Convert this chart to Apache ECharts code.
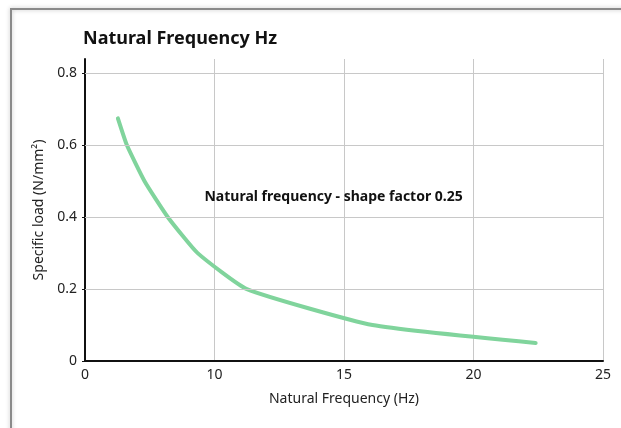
<!DOCTYPE html>
<html>
<head>
<meta charset="utf-8">
<script src="https://cdn.jsdelivr.net/npm/echarts@6/dist/echarts.min.js"></script>
<style>
  html, body { margin: 0; padding: 0; background: #fff; }
  #chart { width: 621px; height: 428px; }
</style>
</head>
<body>
<div id="chart"></div>
<script>
// natural frequency (axis units) vs specific load
const freq = [6.27, 6.62, 7.3, 8.2, 9.35, 11.25, 16.1, 22.4];
const load = [0.675, 0.6, 0.5, 0.4, 0.3, 0.2, 0.1, 0.05];
const xTickLabels = ['0', '10', '15', '20', '25'];
const yGridValues = [0.2, 0.4, 0.6, 0.8];
const seriesName = 'Natural frequency - shape factor 0.25';

const font = '"Noto Sans", sans-serif';

let myChart = echarts.init(document.getElementById('chart'));
myChart.setOption({
    animation: false,
    textStyle: { fontFamily: font },
    title: {
        text: 'Natural Frequency Hz',
        left: 78,
        top: 25,
        textStyle: { fontSize: 18, fontWeight: 'bold', color: '#111', fontFamily: font }
    },
    // outer frame of the chart area
    graphic: [{
        type: 'rect',
        shape: { x: 11, y: 9, width: 700, height: 500 },
        style: { fill: 'none', stroke: '#8a8a8a', lineWidth: 2, shadowBlur: 4, shadowColor: 'rgba(0,0,0,0.25)' },
        silent: true
    }],
    grid: { left: 85, right: 18, top: 59, bottom: 67 },
    xAxis: {
        type: 'value',
        min: 5,
        max: 25,
        interval: 5,
        name: 'Natural Frequency (Hz)',
        nameLocation: 'middle',
        nameGap: 31,
        nameTextStyle: { fontSize: 14, color: '#222' },
        axisLine: { show: true, onZero: false, lineStyle: { color: '#111', width: 2 } },
        axisTick: { show: false },
        axisLabel: {
            fontSize: 14, color: '#222', margin: 7,
            formatter: v => xTickLabels[Math.round((v - 5) / 5)]
        },
        splitLine: { show: true, lineStyle: { color: '#c8c8c8', width: 1 } }
    },
    yAxis: {
        type: 'value',
        min: 0,
        max: 0.84,
        interval: 0.2,
        name: 'Specific load (N/mm²)',
        nameLocation: 'middle',
        nameGap: 33,
        nameTextStyle: { fontSize: 14, color: '#222' },
        axisLine: { show: true, lineStyle: { color: '#111', width: 2 } },
        axisTick: { show: true, length: 3, lineStyle: { color: '#111', width: 1 } },
        axisLabel: { fontSize: 14, color: '#222', margin: 8, showMaxLabel: false },
        splitLine: { show: false }
    },
    series: [{
        name: seriesName,
        type: 'line',
        data: freq.map((f, i) => [f, load[i]]),
        smooth: 0.15,
        symbol: 'none',
        lineStyle: { color: '#80d49c', width: 4, cap: 'round' },
        z: 3,
        markLine: {
            silent: true,
            symbol: 'none',
            label: { show: false },
            lineStyle: { color: '#c8c8c8', width: 1, type: 'solid' },
            data: yGridValues.map(v => ({ yAxis: v }))
        },
        markPoint: {
            silent: true,
            symbol: 'circle',
            symbolSize: 0,
            label: {
                show: true,
                formatter: seriesName,
                fontSize: 14,
                fontWeight: 'bold',
                color: '#111'
            },
            data: [{ coord: [14.6, 0.455] }]
        }
    }]
});
</script>
</body>
</html>
